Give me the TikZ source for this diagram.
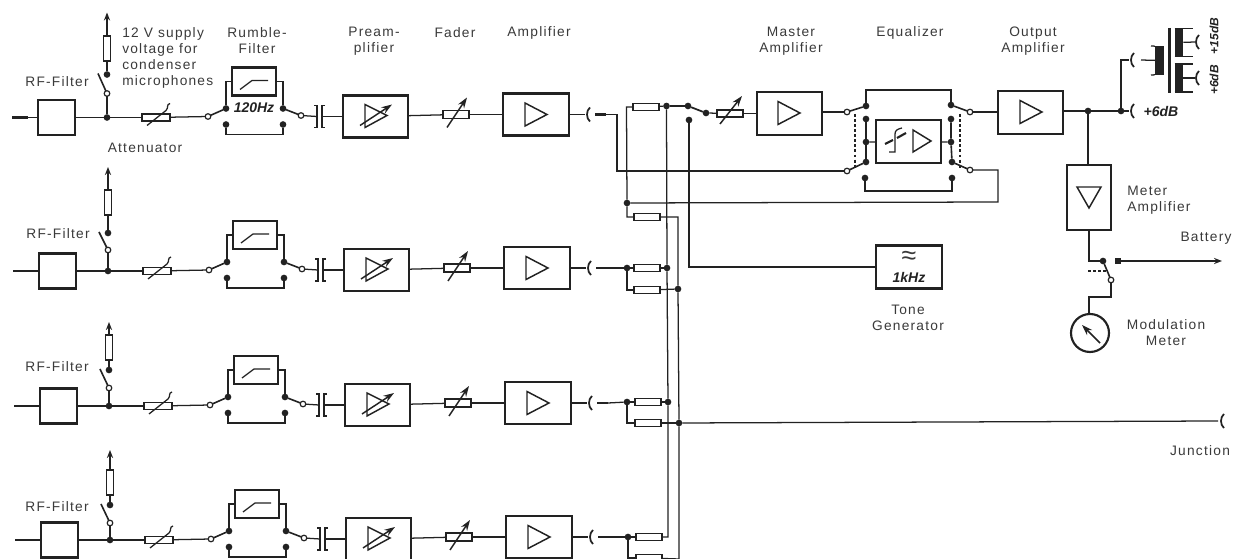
\documentclass[tikz,border=0pt]{standalone}
\usepackage{fontspec}
\setmainfont[LetterSpace=9]{Liberation Sans}
\newfontfamily\plainit[ItalicFont=Liberation Sans Italic,BoldItalicFont=Liberation Sans Bold Italic]{Liberation Sans}
\usetikzlibrary{arrows.meta,calc}
\definecolor{ink}{HTML}{222222}
\definecolor{txt}{HTML}{3A3A3A}
\tikzset{
  wire/.style={draw=ink,line width=0.95pt},
  heavy/.style={draw=ink,line width=1.6pt},
  stub/.style={draw=ink,line width=2.2pt},
  act/.style={draw=ink,line width=1.1pt,dash pattern=on 2.2pt off 1.6pt},
  wbox/.style 2 args={draw=ink,fill=white,line width=1.6pt,inner sep=0pt,outer sep=0pt,minimum width=#1*0.75pt,minimum height=#2*0.75pt},
  res/.style 2 args={draw=ink,fill=white,line width=0.95pt,inner sep=0pt,outer sep=0pt,minimum width=#1*0.75pt,minimum height=#2*0.75pt},
  jdot/.style={circle,fill=ink,inner sep=0pt,outer sep=0pt,minimum size=5pt},
  opn/.style={circle,draw=ink,fill=white,line width=0.9pt,inner sep=0pt,outer sep=0pt,minimum size=4.2pt},
  lab/.style={text=txt,font=\fontsize{10.3}{12}\selectfont,inner sep=0pt,align=center},
  ilab/.style={text=ink,font=\plainit\fontsize{10.5}{12}\selectfont\bfseries\itshape,inner sep=0pt},
  tip/.style={-{Stealth[length=6pt,width=4.6pt]}},
  tipb/.style={-{Stealth[length=8pt,width=5.4pt]}},
}
\newcommand\tri[2]{\draw[wire,line width=1.1pt] (#1,#2-11.5) -- (#1,#2+11.5) -- (#1+22,#2) -- cycle;}
\newcommand\jk[2]{\draw[wire,line width=1.3pt] (#1+5,#2-7) .. controls (#1+1,#2-4) and (#1+1,#2+4) .. (#1+5,#2+7);}
% id, y, dx, open y, dot y, rect y, arrow y
\newcommand\chan[7]{%
\begin{scope}[shift={(#3,#2)}]
  \coordinate (in#1) at (12,0);
  \coordinate (ins#1) at (28,0);
  \draw[stub] (in#1) -- (ins#1);
  \node[wbox={37}{35}] (rf#1) at (56.5,0) {};
  \draw[wire] (ins#1) -- (rf#1);
  \node[jdot] (j#1) at (107,0) {};
  \draw[wire] (rf#1) -- (j#1);
  % supply branch
  \node[opn] (so#1) at (107,#4) {};
  \node[jdot] (sd#1) at (107,#5) {};
  \coordinate (sa#1) at (98,#5-1);
  \node[res={7}{25}] (sr#1) at (107,#6) {};
  \coordinate (st#1) at (107,#7);
  \draw[wire] (j#1) -- (so#1);
  \draw[wire,line width=1.2pt] (so#1) -- (sa#1);
  \draw[wire] (sd#1) -- (sr#1);
  \draw[wire,tip] (sr#1) -- (st#1);
  % attenuator
  \node[res={28}{7}] (att#1) at (156,0) {};
  \draw[wire] (147,8) -- (166,-7) .. controls (169,-10) and (166,-13) .. (170,-14);
  \draw[wire] (j#1) -- (att#1);
  % rumble filter
  \node[opn] (ol#1) at (208,-1) {};
  \draw[wire] (att#1) -- (ol#1);
  \node[jdot] (ul#1) at (226,-9) {};
  \node[jdot] (ll#1) at (226,7) {};
  \node[jdot] (ur#1) at (283,-9) {};
  \node[jdot] (lr#1) at (283,7) {};
  \node[opn] (or#1) at (301,-2) {};
  \draw[wire,line width=1.2pt] (ol#1) -- (ul#1);
  \draw[wire,line width=1.2pt] (ur#1) -- (or#1);
  \node[wbox={44}{28}] (fl#1) at (254,-36) {};
  \draw[wire] (240,-28) -- (252,-37) -- (268,-37);
  \draw[wire] (ul#1) |- (fl#1.west);
  \draw[wire] (ur#1) |- (fl#1.east);
  \coordinate (br#1) at (254,17);
  \draw[wire] (ll#1) |- (br#1) -| (lr#1);
  % coupling capacitor
  \coordinate (cl#1) at (317,-1);
  \coordinate (cr#1) at (322,-1);
  \draw[wire] (or#1) -- (cl#1);
  \draw[wire] (314,-12) -- (317,-12) -- (317,10) -- (314,10);
  \draw[wire] (325,-12) -- (322,-12) -- (322,10) -- (325,10);
  % preamplifier
  \node[wbox={65}{42}] (pre#1) at (375.5,-1) {};
  \draw[wire] (cr#1) -- (pre#1);
  \draw[wire,line width=1.1pt] (365,-13) -- (365,10) -- (387,-2) -- cycle;
  \draw[wire,line width=1.1pt,tipb] (360,8) -- (392,-13);
  % fader
  \node[res={26}{8}] (fd#1) at (456,-3) {};
  \draw[wire,line width=1.1pt,tipb] (447,10) -- (467,-20);
  \draw[wire] (pre#1) -- (fd#1);
  % amplifier
  \node[wbox={66}{42}] (am#1) at (536,-3) {};
  \tri{525}{-3}
  \draw[wire] (fd#1) -- (am#1);
  % output jack
  \coordinate (jk#1) at (585,-3);
  \coordinate (js#1) at (595,-3);
  \coordinate (out#1) at (606,-3);
  \draw[wire] (am#1) -- (jk#1);
  \jk{585}{-3}
  \draw[stub] (js#1) -- (out#1);
\end{scope}}
\begin{document}
\begin{tikzpicture}[x=0.75pt,y=-0.75pt]
\useasboundingbox (0,0) rectangle (1233,559);
\fill[white] (0,0) rectangle (1233,559);
\begin{scope}
\clip (0,0) rectangle (1233,559);
\chan{1}{117.5}{0}{-24}{-43}{-69}{-105}
\chan{2}{271}{1}{-21}{-38}{-68.5}{-104}
\chan{3}{406}{2}{-18}{-36}{-58.5}{-84}
\chan{4}{540}{3}{-17}{-35}{-57.5}{-90}

% mixing network
\node[res={26}{7}] (ra) at (646,107) {};
\node[res={26}{7}] (rb) at (647,217) {};
\node[res={26}{7}] (rc) at (647,268) {};
\node[res={26}{7}] (rd) at (647,290) {};
\node[res={26}{7}] (re) at (648,402) {};
\node[res={26}{7}] (rf) at (648,423) {};
\node[res={26}{7}] (rg) at (649,537) {};
\node[res={26}{7}] (rh) at (649,558) {};
\coordinate (ta) at (626.5,107);
\node[jdot] (mx) at (627,203) {};
\coordinate (tb) at (627,217);
\node[jdot] (n2) at (627,268) {};
\coordinate (t2) at (627,290);
\node[jdot] (n3) at (627,402) {};
\coordinate (t3) at (627,423);
\node[jdot] (n4) at (628,537) {};
\coordinate (t4) at (628,558);
\node[jdot] (ba) at (666.5,106) {};
\node[jdot] (bc) at (667,268) {};
\node[jdot] (be) at (668,402) {};
\coordinate (bg) at (668,537);
\coordinate (cb) at (678,217);
\node[jdot] (cd) at (678,289) {};
\node[jdot] (cf) at (679,423) {};
\coordinate (ch) at (679,559);
\draw[wire] (rb) -- (tb) -- (mx) -- (ta) -- (ra);
\draw[wire] (ra) -- (ba);
\draw[wire] (rb) -- (cb) -- (cd) -- (cf) -- (ch);
\draw[wire] (ba) -- (bc) -- (be) -- (bg) -- (rg);
\draw[wire] (out2) -- (n2);
\draw[wire] (n2) -- (rc);
\draw[wire] (rc) -- (bc);
\draw[wire] (n2) -- (t2) -- (rd);
\draw[wire] (rd) -- (cd);
\draw[wire] (out3) -- (n3);
\draw[wire] (n3) -- (re);
\draw[wire] (re) -- (be);
\draw[wire] (n3) -- (t3) -- (rf);
\draw[wire] (rf) -- (cf);
\draw[wire] (out4) -- (n4);
\draw[wire] (n4) -- (rg);
\draw[wire] (n4) -- (t4) -- (rh);
\draw[wire] (rh) -- (ch);

% junction line
\coordinate (jn) at (1218,421);
\draw[wire] (cf) -- (jn);
\jk{1219}{421}

% master section
\node[jdot] (ms) at (688,106) {};
\node[jdot] (mo) at (706,113) {};
\node[jdot] (ml) at (689,120) {};
\draw[wire] (ba) -- (ms);
\draw[wire,line width=1.3pt] (ms) -- (mo);
\node[res={26}{7}] (mf) at (730,113.5) {};
\draw[wire] (mo) -- (mf);
\draw[wire,line width=1.1pt,tipb] (720,124) -- (742,96);
\node[wbox={65}{43}] (ma) at (789.5,113.5) {};
\draw[wire] (mf) -- (ma);
\tri{778}{113}

% tone generator
\node[wbox={66}{43}] (tg) at (909,267) {};
\draw[wire] (ml) |- (tg.west);
\node[lab,font=\plainit\fontsize{20}{20}\selectfont] (tilde) at (909,258) {≈};
\node[ilab] (khz) at (909,277) {1kHz};

% equalizer
\node[opn] (e1) at (847,112) {};
\node[jdot] (e2) at (866,106) {};
\node[jdot] (e3) at (951,105) {};
\node[opn] (e4) at (970,112) {};
\coordinate (eu) at (908,90);
\draw[wire] (ma.east |- e1) -- (e1);
\draw[wire,line width=1.2pt] (e1) -- (e2);
\draw[wire,line width=1.2pt] (e3) -- (e4);
\draw[wire] (e2) |- (eu) -| (e3);
\node[jdot] (e5) at (866,119) {};
\node[jdot] (e6) at (866,142) {};
\node[jdot] (e7) at (866,162) {};
\node[jdot] (e8) at (951,119) {};
\node[jdot] (e9) at (951,142) {};
\node[jdot] (e10) at (952,162) {};
\node[opn] (e11) at (847,171) {};
\node[opn] (e12) at (970,170) {};
\node[jdot] (e13) at (865,178) {};
\node[jdot] (e14) at (952,178) {};
\coordinate (el) at (908,191);
\draw[wire,line width=1.2pt] (e5) -- (e6) -- (e7);
\draw[wire,line width=1.2pt] (e8) -- (e9) -- (e10);
\draw[wire,line width=1.2pt] (e11) -- (e7);
\draw[wire,line width=1.2pt] (e10) -- (e12);
\draw[wire] (e13) |- (el) -| (e14);
\node[wbox={65}{43}] (eq) at (908.5,141.5) {};
\draw[wire] (e6) -- (eq);
\draw[wire] (e9) -- (eq);
\draw[wire] (889,152) -- (895,152) -- (895,134) .. controls (895,130) and (898,129) .. (902,128);
\draw[wire,line width=1.6pt] (885,144) -- (893,140);
\draw[wire,line width=1.6pt] (897,138) -- (906,133);
\draw[wire,line width=1.1pt] (913,130) -- (913,152) -- (931,141) -- cycle;
\coordinate (a1) at (855,114);
\coordinate (a2) at (855,168);
\coordinate (a3) at (960,114);
\coordinate (a4) at (960,168);
\draw[act] (a1) -- (a2);
\draw[act] (a3) -- (a4);

% cross feeds
\coordinate (f1) at (617,114.5);
\coordinate (f2) at (617,171);
\coordinate (f3) at (998,202);
\coordinate (f4) at (998,170);
\draw[wire] (out1) -- (f1) -- (f2) -- (e11);
\draw[wire] (mx) -- (f3) -- (f4) -- (e12);

% output amplifier
\node[wbox={65}{43}] (oa) at (1030.5,112.5) {};
\draw[wire] (e4) -- (oa.west |- e4);
\tri{1020}{112}
\node[jdot] (o1) at (1088,111) {};
\node[jdot] (o2) at (1121,111) {};
\coordinate (o3) at (1129,111);
\draw[wire] (oa.east |- o1) -- (o1) -- (o2) -- (o3);
\jk{1129}{111}
\node[ilab] (db6) at (1161,112) {+6dB};

% transformer
\coordinate (x1) at (1121,60);
\coordinate (x2) at (1129,60);
\coordinate (x3) at (1141,60);
\draw[wire] (o2) -- (x1) -- (x2);
\jk{1129}{60}
\node[fill=ink,inner sep=0pt,outer sep=0pt,minimum width=7pt,minimum height=21.5pt] (prim) at (1159.5,60.5) {};
\draw[wire] (x3) -- (prim);
\draw[wire] (1151,46) -- (prim.north west) ;
\draw[wire] (1151,75) -- (prim.south west);
\draw[wire,line width=1.7pt] (1169.5,28) -- (1169.5,93);
\node[fill=ink,inner sep=0pt,outer sep=0pt,minimum width=6.5pt,minimum height=21pt] (sa) at (1179,42.5) {};
\node[fill=ink,inner sep=0pt,outer sep=0pt,minimum width=6.5pt,minimum height=21pt] (sb) at (1179,78) {};
\draw[wire] (sa.north west) -- (1193,28.5);
\draw[wire] (sa.south west) -- (1193,56.5);
\draw[wire] (sb.north west) -- (1193,64);
\draw[wire] (sb.south west) -- (1193,92);
\coordinate (y1) at (1195,42);
\coordinate (y2) at (1195,78);
\draw[wire] (sa) -- (y1);
\draw[wire] (sb) -- (y2);
\jk{1194}{42}
\jk{1194}{78}
\node[ilab,rotate=90,font=\plainit\fontsize{9}{10}\selectfont\bfseries\itshape] (db15) at (1214,36) {+15dB};
\node[ilab,rotate=90,font=\plainit\fontsize{9}{10}\selectfont\bfseries\itshape] (db6b) at (1214,80) {+6dB};

% meter amplifier
\node[wbox={44}{65}] (me) at (1089,197.5) {};
\draw[wire] (o1) -- (me.north -| o1);
\draw[wire,line width=1.1pt] (1077,187) -- (1101,187) -- (1089,208) -- cycle;
\node[jdot] (m1) at (1103,261) {};
\coordinate (m0) at (1089,261);
\draw[wire] (me.south) -- (m0) -- (m1);
\node[opn] (m2) at (1111,280) {};
\draw[wire,line width=1.2pt] (m1) -- (m2);
\node[fill=ink,inner sep=0pt,outer sep=0pt,minimum size=3.8pt] (m3) at (1118,261) {};
\coordinate (m4) at (1222,261);
\draw[wire,tip] (m3) -- (m4);
\coordinate (m5) at (1088,271);
\coordinate (m6) at (1106,271);
\draw[act,line width=1.5pt] (m5) -- (m6);
\node[circle,draw=ink,line width=1.6pt,fill=white,inner sep=0pt,outer sep=0pt,minimum size=28.5pt] (gauge) at (1090,333) {};
\coordinate (m7) at (1111,297);
\coordinate (m8) at (1089,297);
\draw[wire] (m2) -- (m7) -- (m8) -- (m8 |- gauge.north);
\draw[wire,line width=1.2pt,tipb] (1100,343) -- (1082,325);

% labels
\node[lab] (l1a) at (57,82) {RF-Filter};
\node[lab] (l1b) at (58,234) {RF-Filter};
\node[lab] (l1c) at (57,367) {RF-Filter};
\node[lab] (l1d) at (57,507) {RF-Filter};
\node[lab,anchor=west,align=left,font=\fontsize{10.3}{11.9}\selectfont] (l2) at (122,58) {12 V supply\\voltage for\\condenser\\microphones};
\node[lab] (l3) at (145,148) {Attenuator};
\node[lab] (l4) at (257,41) {Rumble-\\Filter};
\node[lab] (l5) at (374,41) {Pream-\\plifier};
\node[lab] (l6) at (455,33) {Fader};
\node[lab] (l7) at (539,33) {Amplifier};
\node[lab] (l8) at (791,41) {Master\\Amplifier};
\node[lab] (l9) at (910,33) {Equalizer};
\node[lab] (l10) at (1033,41) {Output\\Amplifier};
\node[lab,anchor=west,align=left] (l11) at (1127,200) {Meter\\Amplifier};
\node[lab] (l12) at (1206,238) {Battery};
\node[lab] (l13) at (1166,333) {Modulation\\Meter};
\node[lab] (l14) at (908,318) {Tone\\Generator};
\node[lab] (l15) at (1200,451) {Junction};
\node[ilab] (hz) at (254,108) {120Hz};
\end{scope}
\end{tikzpicture}
\end{document}
